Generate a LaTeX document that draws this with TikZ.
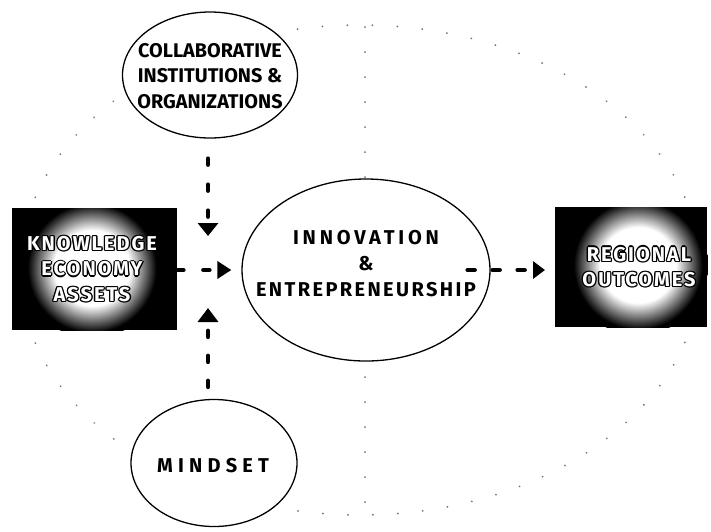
\documentclass[tikz,border=0pt]{standalone}
\usepackage{fontspec}
\setmainfont{Fira Sans}
\newfontfamily\lblfont{Fira Sans}
\newfontfamily\boxlsfont[LetterSpace=10]{Fira Sans}
\newfontfamily\entfont[LetterSpace=12]{Fira Sans}
\newfontfamily\innfont[LetterSpace=19]{Fira Sans}
\newfontfamily\mindfont[LetterSpace=26]{Fira Sans}
\usetikzlibrary{shapes.geometric,arrows.meta}
\pgfdeclareradialshading{glowshade}{\pgfpointorigin}{color(0bp)=(white); color(13.5bp)=(white); color(23bp)=(black); color(50bp)=(black)}
\newcommand\olTxt[1]{{%
\rlap{\kern1.3pt\hbox{\color{black}#1}}%
\rlap{\kern-1.3pt\hbox{\color{black}#1}}%
\rlap{\raise1.3pt\hbox{\color{black}#1}}%
\rlap{\raise-1.3pt\hbox{\color{black}#1}}%
\rlap{\kern0.9pt\raise0.9pt\hbox{\color{black}#1}}%
\rlap{\kern-0.9pt\raise0.9pt\hbox{\color{black}#1}}%
\rlap{\kern0.9pt\raise-0.9pt\hbox{\color{black}#1}}%
\rlap{\kern-0.9pt\raise-0.9pt\hbox{\color{black}#1}}%
\hbox{\color{white}#1}}}
\begin{document}
\begin{tikzpicture}[x=1pt,y=-1pt,
  every node/.style={inner sep=0pt},
  bubble/.style={draw=black, line width=1.3pt, ellipse, fill=white},
  dotline/.style={draw=black!55, line width=2pt, line cap=round, dash pattern=on 0.01pt off 25pt},
  dashconn/.style={line width=4.5pt, line cap=round, draw=black},
  darkbox/.style={fill=black, anchor=north west},
  collabfont/.style={font={\lblfont\bfseries\fontsize{19.8}{25.5}\selectfont}},
  centerfont/.style={font={\entfont\bfseries\fontsize{20}{26}\selectfont}},
  boxfont/.style={font={\boxlsfont\bfseries\fontsize{20}{25.5}\selectfont}}
]
\useasboundingbox (0,0) rectangle (711,531);

% large dotted ellipse and vertical dotted line
\draw[dotline] (360,270) ellipse [x radius=340pt, y radius=245pt];
\coordinate (vtop) at (365,27);
\coordinate (vbot) at (365,512);
\draw[dotline] (vtop) -- (vbot);

% ellipses
\node[bubble, minimum width=248pt, minimum height=182pt] (innov) at (366,270) {};
\node[centerfont, align=center] (innovtxt) at (366,264)
  {{\innfont INNOVATION}\\\&\\ENTREPRENEURSHIP};
\node[bubble, minimum width=175pt, minimum height=126pt] (collab) at (210,75) {};
\node[collabfont, align=center] (collabtxt) at (210,76)
  {COLLABORATIVE\\INSTITUTIONS \&\\ORGANIZATIONS};
\node[bubble, minimum width=166pt, minimum height=127pt] (mind) at (214,463) {};
\node[font={\mindfont\bfseries\fontsize{20}{24}\selectfont}] (mindtxt) at (213,466) {MINDSET};

% knowledge box
\node[darkbox, minimum width=165pt, minimum height=122pt] (know) at (12,208) {};
\begin{scope}
  \clip (know.south west) rectangle (know.north east);
  \shade[shading=glowshade] (92,268) circle (70pt);
\end{scope}
\node[boxfont, align=center] (knowtxt) at (92,269)
  {\olTxt{KNOWLEDGE}\\\olTxt{ECONOMY}\\\olTxt{ASSETS}};

% regional box
\node[darkbox, minimum width=152pt, minimum height=120pt] (reg) at (555,207) {};
\begin{scope}
  \clip (reg.south west) rectangle (reg.north east);
  \shade[shading=glowshade] (638,265) circle (70pt);
\end{scope}
\node[boxfont, align=center] (regtxt) at (639,267)
  {\olTxt{REGIONAL}\\\olTxt{OUTCOMES}};

% connectors
\coordinate (downtip) at (208,236);
\coordinate (uptip) at (208,308);
\draw[dashconn, dash pattern=on 6pt off 20pt, shorten <=20pt,
  -{Triangle[width=20pt,length=13pt]}] (collab.south -| downtip) -- (downtip);
\draw[dashconn, dash pattern=on 6pt off 19pt, shorten <=12pt,
  -{Triangle[width=20pt,length=14pt]}] (mind.north -| uptip) -- (uptip);
\draw[dashconn, dash pattern=on 6pt off 20pt, shorten >=10pt,
  -{Triangle[width=17pt,length=14pt]}] (know.east |- innov.west) -- (innov.west);
\draw[dashconn, dash pattern=on 7pt off 18pt, shorten >=10pt,
  -{Triangle[width=17pt,length=12pt]}] ([xshift=-23pt]innov.east) -- (reg.west |- innov.east);
\end{tikzpicture}
\end{document}
